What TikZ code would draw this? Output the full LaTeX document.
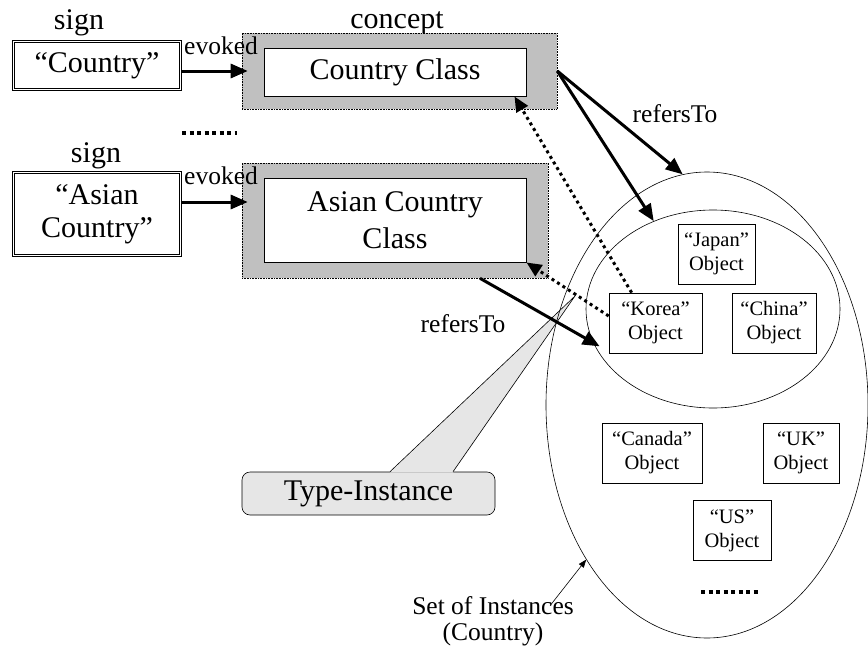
\documentclass[tikz,border=0pt]{standalone}
\usepackage{fontspec}
\setmainfont{Liberation Serif}
\usepackage{tikz}
\usetikzlibrary{arrows.meta,shapes,calc}

\definecolor{conceptgray}{HTML}{C0C0C0}
\definecolor{calloutgray}{HTML}{E6E6E6}

\begin{document}
\begin{tikzpicture}[x=1pt,y=-1pt]
\tikzset{
	sign node/.style = {draw, double, line width=0.6pt, double distance=1.6pt, minimum width=167pt, align=center, inner sep=0pt, font=\fontsize{30}{33}\selectfont},
	concept back/.style = {draw, densely dotted, line width=0.6pt, fill=conceptgray, inner sep=0pt},
	class node/.style = {draw, fill=white, line width=1pt, minimum width=262pt, align=center, inner sep=0pt, font=\fontsize{30}{37}\selectfont},
	object node/.style = {draw, line width=0.7pt, minimum height=60pt, align=center, inner sep=0pt, font=\fontsize{20.5}{24}\selectfont},
	big label/.style = {font=\fontsize{30}{33}\selectfont},
	small label/.style = {font=\fontsize{25.5}{26}\selectfont},
	bold arrow/.style = {line width=3pt, -{Triangle[length=17pt,width=14pt]}},
	dot arrow/.style = {line width=3pt, dash pattern=on 3pt off 3.5pt, -{Triangle[length=15pt,width=13pt]}},
	thin arrow/.style = {line width=0.6pt, -{Triangle[length=8pt,width=6pt]}},
	dot row/.style = {line width=4pt, dash pattern=on 4pt off 3.5pt},
}
\useasboundingbox (0,0) rectangle (868,656);

% signs
\node (sign1) [sign node, minimum height=48pt] at (97,65.5) {“Country”};
\node (sign2) [sign node, minimum height=83pt] at (97,214) {“Asian\\Country”};
\node (sign1 label) [big label, anchor=base] at (79,29) {sign};
\node (sign2 label) [big label, anchor=base] at (96,162) {sign};

% concepts
\node (concept label) [big label, anchor=base] at (397,28) {concept};
\node (cc back) [concept back, minimum width=315pt, minimum height=76pt] at (399.5,71) {};
\node (cc) [class node, minimum height=48pt] at (395,72) {Country Class};
\node (acc back) [concept back, minimum width=306pt, minimum height=115pt] at (395,220.5) {};
\node (acc) [class node, minimum height=84pt] at (395,220) {Asian Country\\Class};

\draw [bold arrow] (sign1.east |- cc back.west) -- ([xshift=6pt]cc back.west);
\draw [bold arrow] ([yshift=12pt]sign2.east) -- ([yshift=12pt,xshift=6pt]sign2.east -| acc back.west);
\node (ev1) [small label, anchor=base] at (221,54) {evoked};
\node (ev2) [small label, anchor=base] at (221,184) {evoked};

\draw [dot row] (182,133) -- (237,133);

% callout
\node (ti) [draw, line width=0.6pt, rounded corners=8pt, fill=calloutgray, minimum width=253pt, minimum height=43pt, inner sep=0pt, big label] at (368.5,493.5) {Type-Instance};
\coordinate (ti tip) at (575,296);
\fill [calloutgray] ([xshift=21.5pt,yshift=-1pt]ti.north) -- (ti tip) -- ([xshift=84.5pt,yshift=-1pt]ti.north) -- cycle;
\draw [line width=0.6pt] ([xshift=21.5pt]ti.north) -- (ti tip) -- ([xshift=84.5pt]ti.north);

% sets of instances
\node (set) [draw, ellipse, line width=0.6pt, minimum width=322pt, minimum height=466pt, inner sep=0pt] at (707,405) {};
\node (asia) [draw, ellipse, line width=0.6pt, minimum width=254pt, minimum height=198pt, inner sep=0pt] at (713,309) {};

\node (japan) [object node, minimum width=77pt] at (716.5,254) {“Japan”\\Object};
\node (korea) [object node, minimum width=93pt] at (655.5,323) {“Korea”\\Object};
\node (china) [object node, minimum width=84pt] at (774,323) {“China”\\Object};
\node (canada) [object node, minimum width=100pt] at (652,453) {“Canada”\\Object};
\node (uk) [object node, minimum width=76pt] at (801,453) {“UK”\\Object};
\node (us) [object node, minimum width=78pt] at (732,530.5) {“US”\\Object};
\draw [dot row] (701,592) -- (759,592);

% refersTo
\draw [bold arrow] (cc back.east) -- (set.96);
\draw [bold arrow] (cc back.east) -- (asia.124);
\draw [bold arrow] ([xshift=85pt]acc back.south) -- ([xshift=-9pt,yshift=7pt]korea.south west);
\node (ref1) [small label, anchor=base] at (675,122) {refersTo};
\node (ref2) [small label, anchor=base] at (463,332) {refersTo};

% type-instance links
\draw [dot arrow] ([xshift=23pt]korea.north west) -- ([xshift=-12pt]cc.south east);
\draw [dot arrow] ([yshift=7pt]korea.west) -- (acc.south east);

\node (soi) [small label, align=center] at (493,621) {Set of Instances\\(Country)};
\draw [thin arrow] ($(soi.north)+(57,13)$) -- (set.232);

\end{tikzpicture}
\end{document}
